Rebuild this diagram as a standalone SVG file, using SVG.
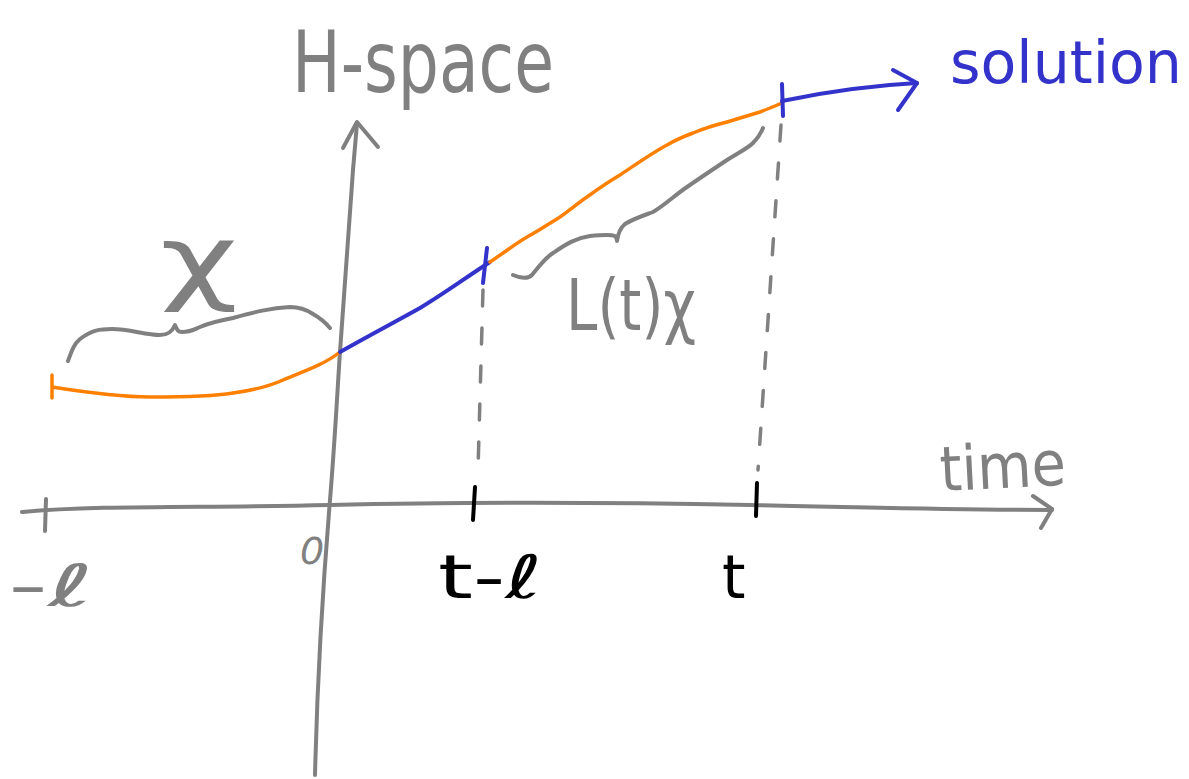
<svg xmlns="http://www.w3.org/2000/svg" width="1189" height="779" viewBox="0 0 1189 779">
<style>
.g{fill:none;stroke:#808080;stroke-width:4;stroke-linecap:round;stroke-linejoin:round}
.o{fill:none;stroke:#ff8000;stroke-width:3.5;stroke-linecap:round;stroke-linejoin:round}
.b{fill:none;stroke:#3333cc;stroke-width:4;stroke-linecap:round;stroke-linejoin:round}
.k{fill:none;stroke:#000;stroke-width:4;stroke-linecap:round}
.d{fill:none;stroke:#808080;stroke-width:3.5;stroke-linecap:round;stroke-dasharray:16 22}
.tg{fill:#808080;font-family:"DejaVu Sans",sans-serif}
.tk{fill:#000;font-family:"DejaVu Sans",sans-serif}
.tb{fill:#3333cc;font-family:"DejaVu Sans",sans-serif}
</style>
<rect width="1189" height="779" fill="#fff"/>
<g id="connectors">
  <path class="g" d="M315,775 C318,650 325,560 330,500 S338,380 340,352 C345,280 350,210 353,170 L357,123"/>
  <polyline class="g" points="343,148 357,122 378,147"/>
  <path class="g" d="M22,512 C100,505 200,508 330,505 S600,502 750,505 S950,510 1052,510"/>
  <polyline class="g" points="1033,496 1052,509 1041,528"/>
  <path class="g" d="M46,499 L45,531"/>
  <path class="k" d="M475,487 L473,520"/>
  <path class="k" d="M757,483 L756,516"/>
  <path class="d" d="M483,290 L478,470"/>
  <path class="d" d="M781,125 L758,470"/>
  <path class="o" d="M52,375 L52,398 M52,387 C90,393 120,397 150,397 C190,397 215,396 233,393 C255,390 270,386 283,380 C305,371 325,364 340,352"/>
  <path class="b" d="M340,352 C370,335 395,322 420,308 C445,293 465,278 490,262"/>
  <path class="b" d="M487,248 L483,283"/>
  <path class="o" d="M490,262 C505,252 515,244 527,237 C540,230 550,223 560,217 C570,210 578,203 587,197 C598,189 608,182 620,175 C635,165 652,153 667,145 C677,139 685,136 693,133 C705,128 715,125 727,122 C740,118 750,115 760,112 C768,109 775,106 782,103"/>
  <path class="b" d="M782,84 L783,116"/>
  <path class="b" d="M782,101 C820,93 860,86 917,83"/>
  <polyline class="b" points="893,70 917,83 898,110"/>
  <path class="g" d="M68,361 C72,350 74,344 80,339 C92,330 100,329 112,329 C130,329 145,335 160,335 C168,335 172,332 175,325 C177,330 178,332 182,332 C190,332 193,330 200,327 C212,322 222,320 233,318 C255,312 270,308 290,307 C300,307 307,310 313,314 C320,318 325,322 330,328"/>
  <path class="g" d="M513,275 C520,278 528,279 532,275 C540,265 545,258 553,253 C565,245 575,238 590,236 C600,235 610,234 615,236 C617,238 617,240 617,241 C618,234 620,228 625,224 C635,218 645,215 653,212 C665,205 675,195 687,187 C700,178 715,168 727,160 C740,152 748,148 753,143 C758,138 761,133 763,128"/>
</g>
<g id="label-hspace"><text class="tg" x="292" y="92" font-size="86" textLength="262" lengthAdjust="spacingAndGlyphs">H-space</text></g>
<g id="label-solution"><text class="tb" x="950" y="83" font-size="58" textLength="232" lengthAdjust="spacingAndGlyphs">solution</text></g>
<g id="label-time"><text class="tg" x="940" y="488" font-size="62" textLength="126" lengthAdjust="spacingAndGlyphs" transform="rotate(-3 1000 470)">time</text></g>
<g id="label-chi"><text class="tg" x="160" y="292" font-size="95" textLength="78" lengthAdjust="spacingAndGlyphs">χ</text></g>
<g id="label-ltchi"><text class="tg" x="566" y="330" font-size="72" textLength="130" lengthAdjust="spacingAndGlyphs">L(t)χ</text></g>
<g id="label-minus-l"><text class="tg" x="8" y="606" font-size="58" textLength="86" lengthAdjust="spacingAndGlyphs">-ℓ</text></g>
<g id="label-zero"><text class="tg" x="300" y="564" font-size="38" font-style="italic">0</text></g>
<g id="label-t-l"><text class="tk" x="438" y="598" font-size="60" textLength="104" lengthAdjust="spacingAndGlyphs">t-ℓ</text></g>
<g id="label-t"><text class="tk" x="722" y="598" font-size="60">t</text></g>
</svg>
